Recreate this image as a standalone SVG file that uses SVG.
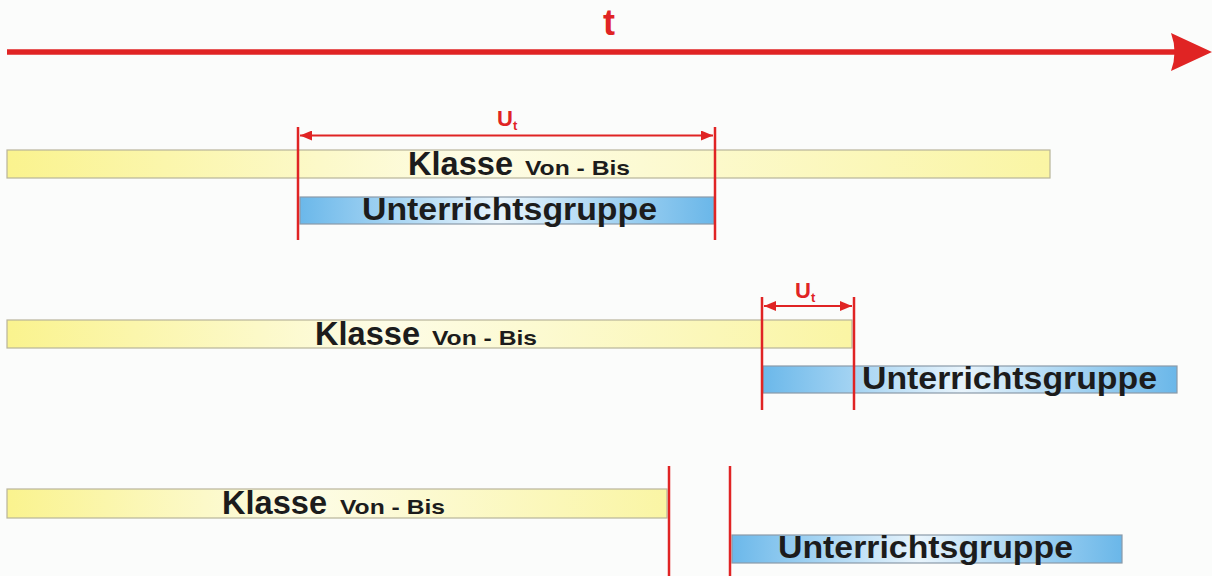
<svg xmlns="http://www.w3.org/2000/svg" width="1212" height="576" viewBox="0 0 1212 576">
<defs>
<linearGradient id="gy" x1="0" y1="0" x2="1" y2="0">
<stop offset="0" stop-color="#faf38e"/>
<stop offset="0.45" stop-color="#fdfce6"/>
<stop offset="1" stop-color="#faf5a4"/>
</linearGradient>
<linearGradient id="gb" x1="0" y1="0" x2="1" y2="0">
<stop offset="0" stop-color="#6bb8ea"/>
<stop offset="0.48" stop-color="#e8f4fc"/>
<stop offset="1" stop-color="#6ab7e9"/>
</linearGradient>
<marker id="ah" viewBox="0 0 12 10" refX="12" refY="5" markerWidth="12" markerHeight="10" markerUnits="userSpaceOnUse" orient="auto-start-reverse">
<path d="M0,0 L12,5 L0,10 Z" fill="#e02424"/>
</marker>
<style>
.yb{fill:url(#gy);stroke:#b8b49a;stroke-width:1.2}
.bb{fill:url(#gb);stroke:#8a9aa8;stroke-width:1.2}
.big{font-family:"Liberation Sans",Arial,sans-serif;font-weight:bold;font-size:33px;fill:#1c1c1c}
.sm{font-family:"Liberation Sans",Arial,sans-serif;font-weight:bold;font-size:21px;fill:#1c1c1c}
.ug{font-family:"Liberation Sans",Arial,sans-serif;font-weight:bold;font-size:31px;fill:#1c1c1c}
.rl{stroke:#e02424;stroke-width:2.5;fill:none}
.dim{stroke:#e02424;stroke-width:2;fill:none}
.ut{font-family:"Liberation Sans",Arial,sans-serif;font-weight:bold;font-size:22px;fill:#e02424}
.uts{font-family:"Liberation Sans",Arial,sans-serif;font-weight:bold;font-size:13px;fill:#e02424}
</style>
</defs>
<rect x="0" y="0" width="1212" height="576" fill="#fbfcfb"/>

<g id="time-axis">
<line x1="7" y1="52" x2="1178" y2="52" stroke="#e02424" stroke-width="5.5"/>
<path d="M1171,33 L1212,52 L1171,71 Q1178,52 1171,33 Z" fill="#e02424"/>
<text x="609" y="35" text-anchor="middle" font-family="Liberation Sans, Arial, sans-serif" font-weight="bold" font-size="36" fill="#e02424">t</text>
</g>

<g id="row1-klasse">
<rect class="yb" x="7" y="150" width="1043" height="28"/>
<text class="big" x="408" y="175" textLength="105" lengthAdjust="spacingAndGlyphs">Klasse</text>
<text class="sm" x="525" y="175" textLength="105" lengthAdjust="spacingAndGlyphs">Von - Bis</text>
</g>
<g id="row1-gruppe">
<rect class="bb" x="300" y="197" width="414" height="27"/>
<text class="ug" x="362" y="220" textLength="295" lengthAdjust="spacingAndGlyphs">Unterrichtsgruppe</text>
</g>

<g id="row2-klasse">
<rect class="yb" x="7" y="320" width="845" height="28"/>
<text class="big" x="315" y="345" textLength="105" lengthAdjust="spacingAndGlyphs">Klasse</text>
<text class="sm" x="432" y="345" textLength="105" lengthAdjust="spacingAndGlyphs">Von - Bis</text>
</g>
<g id="row2-gruppe">
<rect class="bb" x="763" y="366" width="414" height="27"/>
<text class="ug" x="862" y="389" textLength="295" lengthAdjust="spacingAndGlyphs">Unterrichtsgruppe</text>
</g>

<g id="row3-klasse">
<rect class="yb" x="7" y="489" width="660" height="29"/>
<text class="big" x="222" y="514" textLength="105" lengthAdjust="spacingAndGlyphs">Klasse</text>
<text class="sm" x="340" y="514" textLength="105" lengthAdjust="spacingAndGlyphs">Von - Bis</text>
</g>
<g id="row3-gruppe">
<rect class="bb" x="732" y="535" width="390" height="28"/>
<text class="ug" x="778" y="558" textLength="295" lengthAdjust="spacingAndGlyphs">Unterrichtsgruppe</text>
</g>

<g id="connectors">
<line class="rl" x1="298" y1="127" x2="298" y2="240"/>
<line class="rl" x1="715" y1="127" x2="715" y2="240"/>
<line class="dim" x1="300" y1="135.5" x2="713" y2="135.5" marker-start="url(#ah)" marker-end="url(#ah)"/>
<text class="ut" x="497" y="126">U<tspan class="uts" dy="4">t</tspan></text>

<line class="rl" x1="762" y1="297" x2="762" y2="410"/>
<line class="rl" x1="854" y1="297" x2="854" y2="410"/>
<line class="dim" x1="764" y1="306" x2="852" y2="306" marker-start="url(#ah)" marker-end="url(#ah)"/>
<text class="ut" x="795" y="298">U<tspan class="uts" dy="4">t</tspan></text>

<line class="rl" x1="669" y1="466" x2="669" y2="576"/>
<line class="rl" x1="730" y1="466" x2="730" y2="576"/>
</g>
</svg>
